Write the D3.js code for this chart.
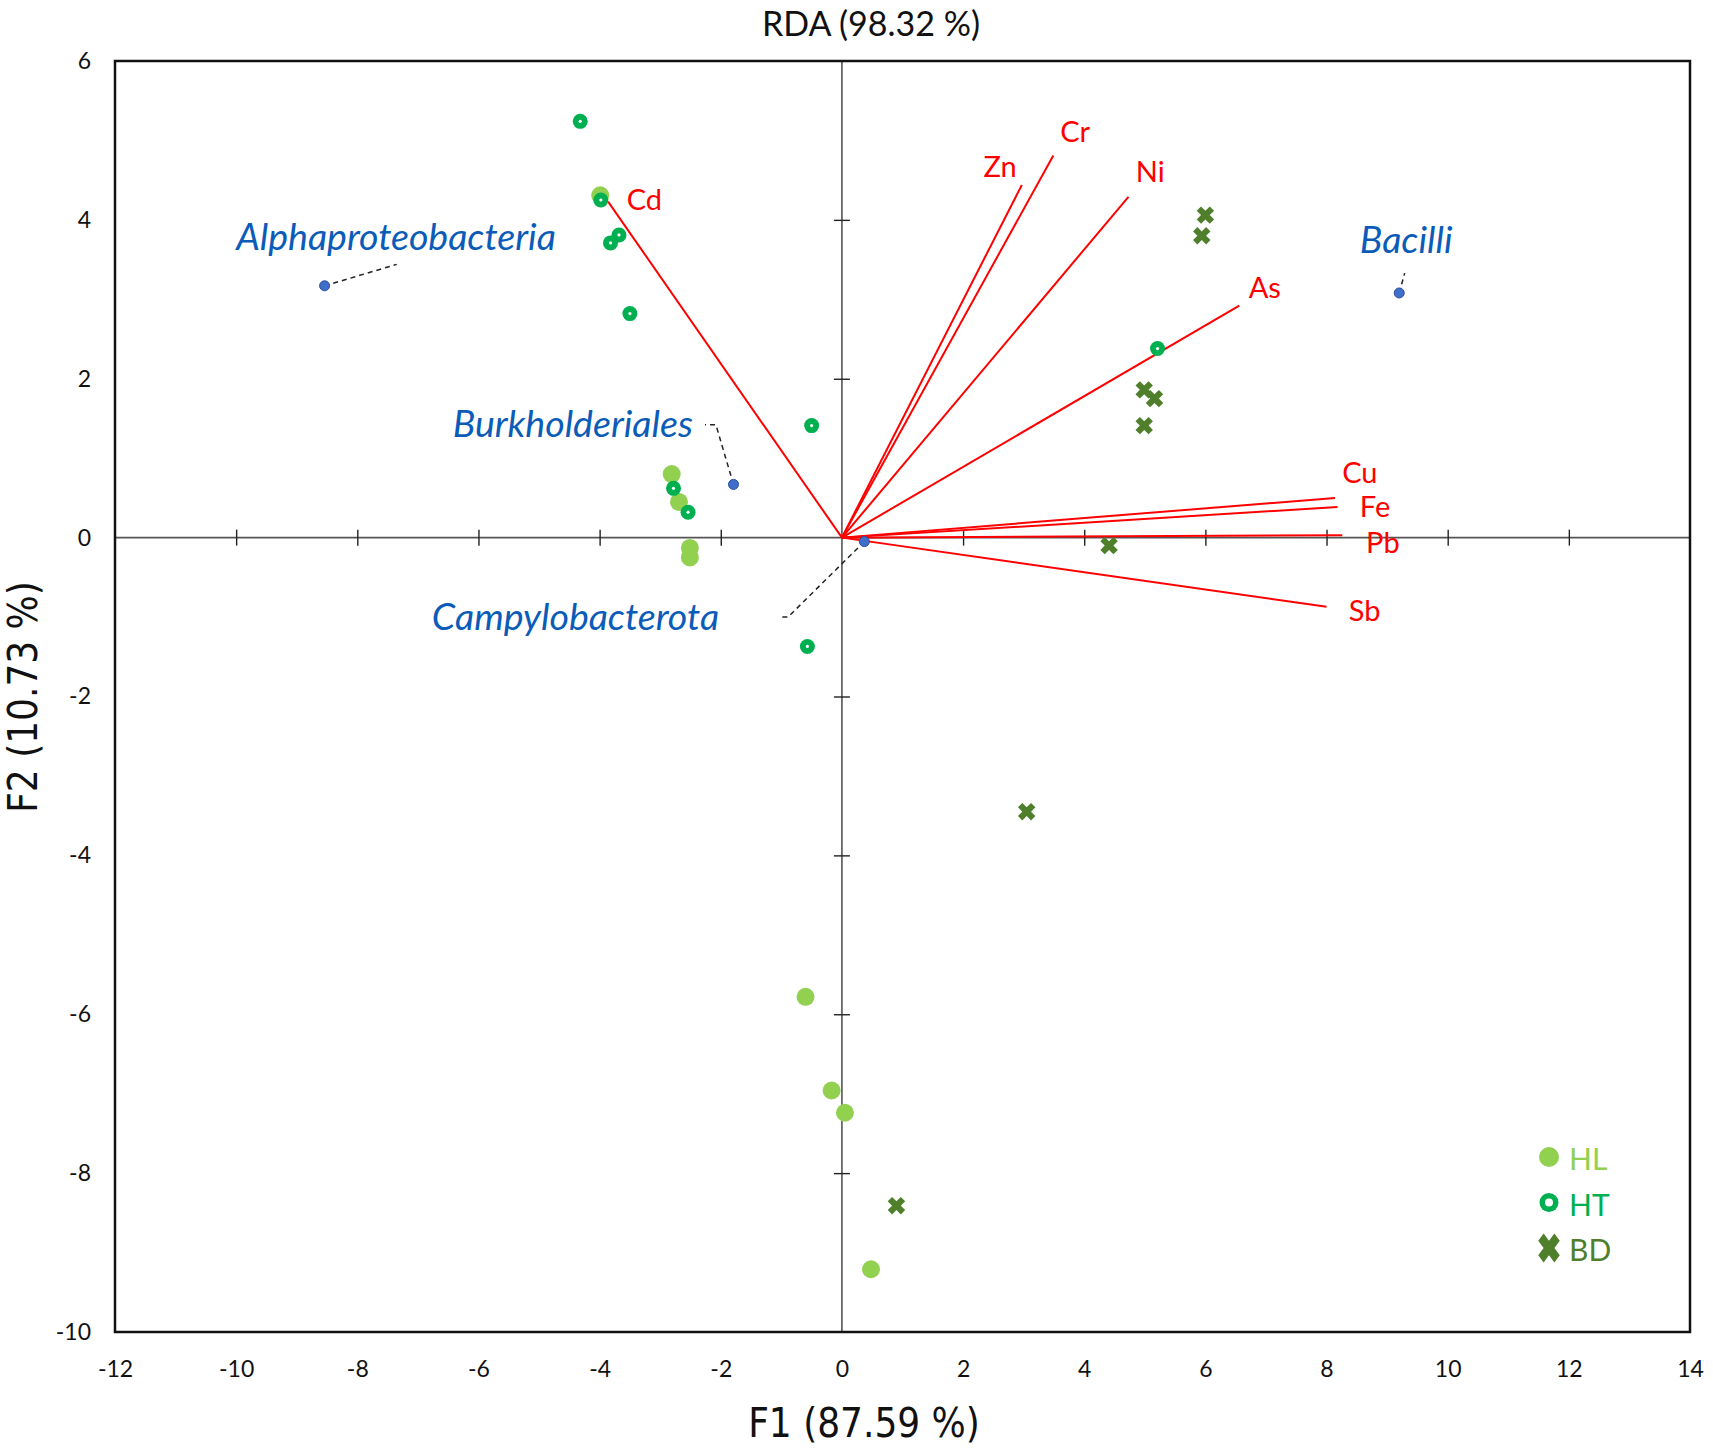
<!DOCTYPE html>
<html>
<head>
<meta charset="utf-8">
<script src="https://cdn.jsdelivr.net/npm/d3@7"></script>
<style>
    body { margin: 0; background: #fff; }
</style>
</head>
<body>
<div id="chart"></div>
<script>
// sample scores
const hlX = [-3.99, -2.81, -2.69, -2.51, -2.51, -0.60, -0.17, 0.05, 0.48];
const hlY = [4.31, 0.80, 0.45, -0.13, -0.25, -5.78, -6.96, -7.24, -9.21];
const htX = [-4.32, -3.98, -3.68, -3.82, -3.50, -0.50, -2.78, -2.54, 5.21, -0.57];
const htY = [5.24, 4.25, 3.81, 3.71, 2.82, 1.41, 0.62, 0.32, 2.38, -1.37];
const bdX = [6.00, 5.94, 4.99, 5.16, 4.99, 4.41, 3.05, 0.90];
const bdY = [4.06, 3.80, 1.86, 1.75, 1.41, -0.10, -3.45, -8.41];

// explanatory variables (arrows)
const varNames = ['Cd', 'Zn', 'Cr', 'Ni', 'As', 'Cu', 'Fe', 'Pb', 'Sb'];
const varX = [-3.86, 2.97, 3.49, 4.73, 6.56, 8.14, 8.18, 8.26, 8.00];
const varY = [4.23, 4.44, 4.81, 4.29, 2.92, 0.50, 0.385, 0.03, -0.87];
const varLabelX = [-3.26, 2.61, 3.85, 5.09, 6.98, 8.55, 8.80, 8.93, 8.63];
const varLabelY = [4.27, 4.69, 5.13, 4.62, 3.16, 0.83, 0.41, -0.05, -0.90];

// taxa
const taxaNames = ['Alphaproteobacteria', 'Bacilli', 'Burkholderiales', 'Campylobacterota'];
const taxaX = [-8.54, 9.20, -1.79, 0.37];
const taxaY = [3.17, 3.08, 0.67, -0.05];
const taxaLabelX = [-10.0, 8.55, -2.46, -6.77];
const taxaLabelY = [3.62, 3.58, 1.27, -1.16];
const taxaAnchor = ['start', 'start', 'end', 'start'];
const taxaLeaders = [
    [[-8.54, 3.17], [-7.35, 3.44]],
    [[9.20, 3.08], [9.29, 3.33]],
    [[-1.79, 0.67], [-2.08, 1.42], [-2.26, 1.42]],
    [[0.37, -0.05], [-0.89, -1.0], [-1.0, -1.0]]
];

// axes
const xTicks = [-12, -10, -8, -6, -4, -2, 0, 2, 4, 6, 8, 10, 12, 14];
const yTicks = [-10, -8, -6, -4, -2, 0, 2, 4, 6];
const legendNames = ['HL', 'HT', 'BD'];

const colHL = '#92d050';
const colHT = '#00b050';
const colBD = '#4f7f2b';
const colRed = '#ff0000';
const colBlue = '#0b5cb8';

const width = 1713;
const height = 1453;
const plotLeft = 115, plotRight = 1690, plotTop = 61, plotBottom = 1332;

const svg = d3.select('#chart')
    .append('svg')
    .attr('width', width)
    .attr('height', height)
    .style('font-family', 'Lato, sans-serif');

const x = d3.scaleLinear().domain([-12, 14]).range([plotLeft, plotRight]);
const y = d3.scaleLinear().domain([-10, 6]).range([plotBottom, plotTop]);
const plain = d => String(d);

// outer tick labels
const xAxis = svg.append('g')
    .attr('transform', `translate(0,${plotBottom})`)
    .call(d3.axisBottom(x).tickValues(xTicks).tickFormat(plain).tickSize(0).tickPadding(29));
xAxis.select('.domain').remove();
xAxis.selectAll('text').attr('font-size', 23).attr('font-family', 'Lato, sans-serif').attr('fill', '#111');

const yAxis = svg.append('g')
    .attr('transform', `translate(${plotLeft},0)`)
    .call(d3.axisLeft(y).tickValues(yTicks).tickFormat(plain).tickSize(0).tickPadding(24));
yAxis.select('.domain').remove();
yAxis.selectAll('text').attr('font-size', 23).attr('font-family', 'Lato, sans-serif').attr('fill', '#111');

// axes through origin
svg.append('line')
    .attr('x1', x(0)).attr('x2', x(0))
    .attr('y1', plotTop).attr('y2', plotBottom)
    .attr('stroke', '#555').attr('stroke-width', 1.6);
svg.append('line')
    .attr('x1', plotLeft).attr('x2', plotRight)
    .attr('y1', y(0)).attr('y2', y(0))
    .attr('stroke', '#555').attr('stroke-width', 1.6);

// cross ticks on the centre axes
const innerX = svg.append('g')
    .attr('transform', `translate(0,${y(0) - 8})`)
    .call(d3.axisBottom(x).tickValues(xTicks.filter(v => v !== 0 && v > -12 && v < 14)).tickSize(16).tickFormat(''));
innerX.select('.domain').remove();
innerX.selectAll('line').attr('stroke', '#222').attr('stroke-width', 1.4);

const innerY = svg.append('g')
    .attr('transform', `translate(${x(0) + 8},0)`)
    .call(d3.axisLeft(y).tickValues(yTicks.filter(v => v !== 0 && v > -10 && v < 6)).tickSize(16).tickFormat(''));
innerY.select('.domain').remove();
innerY.selectAll('line').attr('stroke', '#222').attr('stroke-width', 1.4);

// frame
svg.append('rect')
    .attr('x', plotLeft).attr('y', plotTop)
    .attr('width', plotRight - plotLeft).attr('height', plotBottom - plotTop)
    .attr('fill', 'none')
    .attr('stroke', '#111')
    .attr('stroke-width', 2.5);

// arrows
const vars = varNames.map((n, i) => ({ name: n, x: varX[i], y: varY[i], lx: varLabelX[i], ly: varLabelY[i] }));
svg.append('g').selectAll('line')
    .data(vars)
    .join('line')
    .attr('x1', x(0)).attr('y1', y(0))
    .attr('x2', d => x(d.x)).attr('y2', d => y(d.y))
    .attr('stroke', colRed)
    .attr('stroke-width', 2);

svg.append('g').selectAll('text')
    .data(vars)
    .join('text')
    .attr('x', d => x(d.lx)).attr('y', d => y(d.ly))
    .attr('text-anchor', 'middle')
    .attr('dominant-baseline', 'central')
    .attr('font-size', 29)
    .attr('fill', colRed)
    .text(d => d.name);

// samples
const hl = hlX.map((v, i) => ({ x: v, y: hlY[i] }));
const ht = htX.map((v, i) => ({ x: v, y: htY[i] }));
const bd = bdX.map((v, i) => ({ x: v, y: bdY[i] }));

svg.append('g').selectAll('circle')
    .data(hl)
    .join('circle')
    .attr('cx', d => x(d.x)).attr('cy', d => y(d.y))
    .attr('r', 9)
    .attr('fill', colHL);

const htG = svg.append('g').selectAll('g')
    .data(ht)
    .join('g')
    .attr('transform', d => `translate(${x(d.x)},${y(d.y)})`);
htG.append('circle').attr('r', 7.5).attr('fill', colHT);
htG.append('circle').attr('r', 1.6).attr('fill', '#fff');

const cross = d3.symbol().type(d3.symbolCross).size(190);
svg.append('g').selectAll('path')
    .data(bd)
    .join('path')
    .attr('transform', d => `translate(${x(d.x)},${y(d.y)}) rotate(45)`)
    .attr('d', cross)
    .attr('fill', colBD);

// taxa
const line = d3.line().x(d => x(d[0])).y(d => y(d[1]));
svg.append('g').selectAll('path')
    .data(taxaLeaders)
    .join('path')
    .attr('d', line)
    .attr('fill', 'none')
    .attr('stroke', '#222')
    .attr('stroke-width', 1.5)
    .attr('stroke-dasharray', '5,4');

const taxa = taxaNames.map((n, i) => ({ name: n, x: taxaX[i], y: taxaY[i], lx: taxaLabelX[i], ly: taxaLabelY[i], a: taxaAnchor[i] }));
svg.append('g').selectAll('circle')
    .data(taxa)
    .join('circle')
    .attr('cx', d => x(d.x)).attr('cy', d => y(d.y))
    .attr('r', 5)
    .attr('fill', '#3f6fc8')
    .attr('stroke', '#2a4f9e')
    .attr('stroke-width', 1);

svg.append('g').selectAll('text')
    .data(taxa)
    .join('text')
    .attr('x', d => x(d.lx)).attr('y', d => y(d.ly))
    .attr('text-anchor', d => d.a)
    .attr('font-size', 37.5)
    .attr('font-style', 'italic')
    .attr('fill', colBlue)
    .text(d => d.name);

// legend
const legend = svg.append('g').attr('transform', 'translate(1549,1157)');
const legendColors = [colHL, colHT, colBD];
legendNames.forEach((n, i) => {
    const g = legend.append('g').attr('transform', `translate(0,${i * 45.5})`);
    if (n === 'HL') {
        g.append('circle').attr('r', 10).attr('fill', colHL);
    } else if (n === 'HT') {
        g.append('circle').attr('r', 9.5).attr('fill', colHT);
        g.append('circle').attr('r', 4).attr('fill', '#fff');
    } else {
        g.append('path')
            .attr('d', d3.symbol().type(d3.symbolCross).size(400))
            .attr('transform', 'scale(0.85,1.15) rotate(45)')
            .attr('fill', colBD);
    }
    g.append('text')
        .attr('x', 20)
        .attr('y', 1)
        .attr('dominant-baseline', 'central')
        .attr('font-size', 30)
        .attr('fill', legendColors[i])
        .text(n);
});

// titles
svg.append('text')
    .attr('x', 871).attr('y', 36)
    .attr('text-anchor', 'middle')
    .attr('font-size', 34)
    .attr('fill', '#111')
    .text('RDA (98.32 %)');

svg.append('text')
    .attr('x', 864).attr('y', 1437)
    .attr('text-anchor', 'middle')
    .attr('font-family', '"Liberation Sans Narrow", "DejaVu Sans Condensed", sans-serif')
    .attr('font-size', 40)
    .attr('fill', '#111')
    .text('F1 (87.59 %)');

svg.append('text')
    .attr('transform', 'translate(37,697) rotate(-90)')
    .attr('text-anchor', 'middle')
    .attr('font-family', '"Liberation Sans Narrow", "DejaVu Sans Condensed", sans-serif')
    .attr('font-size', 40)
    .attr('fill', '#111')
    .text('F2 (10.73 %)');
</script>
</body>
</html>
